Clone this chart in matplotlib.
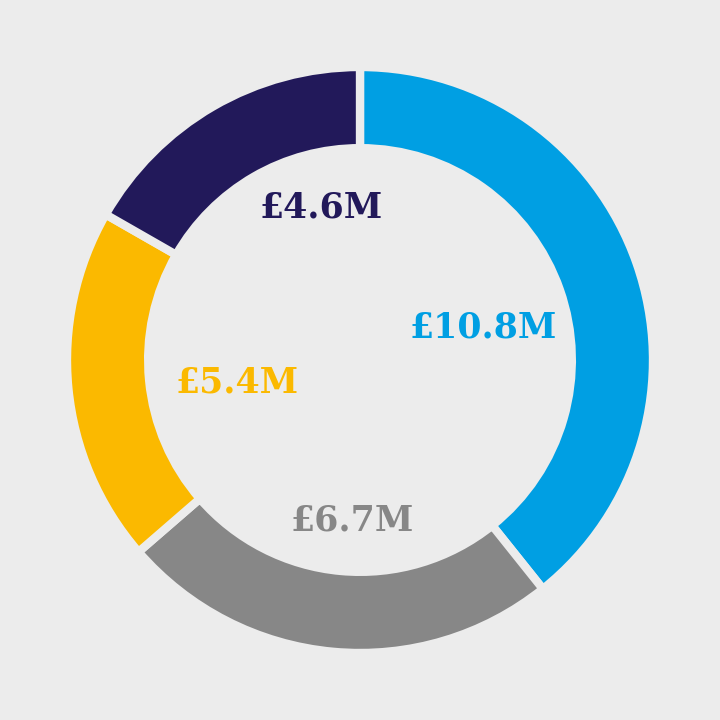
import matplotlib
matplotlib.use("Agg")
import matplotlib.pyplot as plt
import numpy as np

labels = ["£10.8M", "£6.7M", "£5.4M", "£4.6M"]
values = [10.8, 6.7, 5.4, 4.6]
colors = ["#009fe3", "#878787", "#fbb900", "#22195a"]
label_radius = [0.434, 0.547, 0.427, 0.538]
label_angle_shift = [-4.7, 2.4, 5.0, -16.0]

bg = "#ececec"
fig = plt.figure(figsize=(7.2, 7.2), dpi=100, facecolor=bg)
ax = fig.add_axes([0, 0, 1, 1])
ax.set_facecolor(bg)

wedges, _ = ax.pie(values, colors=colors, startangle=90, counterclock=False,
                   radius=1.0,
                   wedgeprops=dict(width=0.277, edgecolor=bg, linewidth=6))

for w, lab, c, r, sh in zip(wedges, labels, colors, label_radius, label_angle_shift):
    mid = np.deg2rad((w.theta1 + w.theta2) / 2 + sh)
    ax.text(r * np.cos(mid), r * np.sin(mid), lab, color=c, ha="center", va="center",
            fontsize=25, fontweight="heavy", family="DejaVu Serif")

lim = 360 / 293
ax.set_xlim(-lim, lim)
ax.set_ylim(-lim, lim)
ax.set_aspect("equal")
ax.axis("off")
fig.savefig("out.png", dpi=100, facecolor=bg)
